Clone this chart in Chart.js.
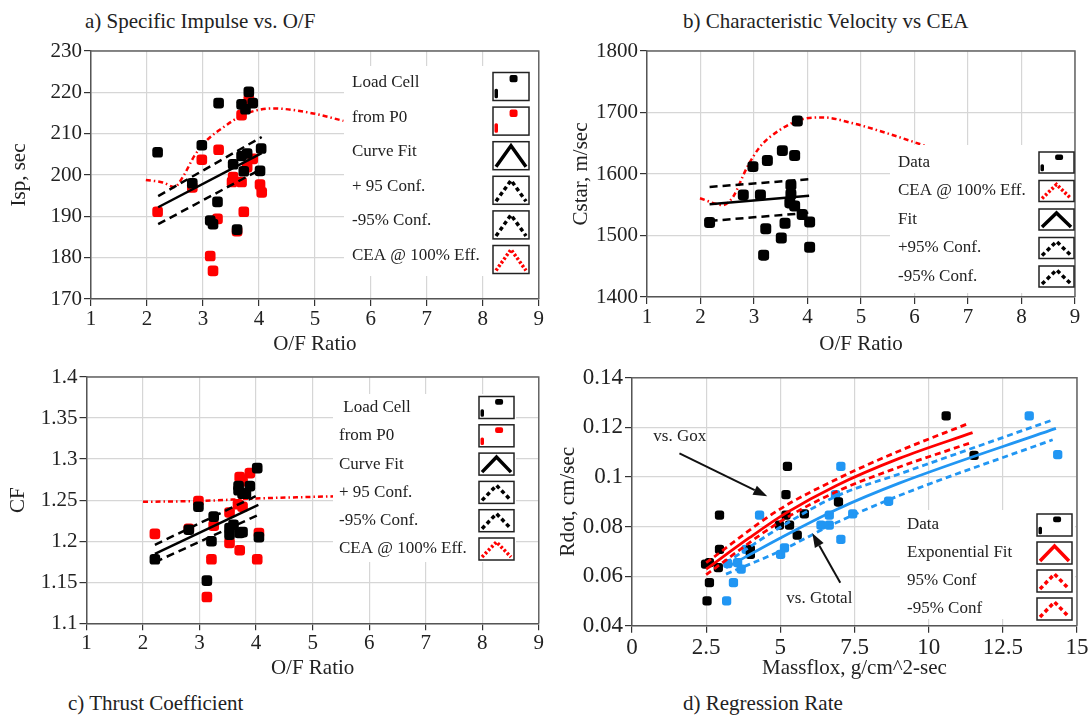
<!DOCTYPE html>
<html>
<head>
<meta charset="utf-8">
<script src="https://cdn.jsdelivr.net/npm/chart.js@4.4.1/dist/chart.umd.min.js"></script>
<style>
  body { margin: 0; background: #fff; width: 1090px; height: 718px; position: relative; overflow: hidden;
         font-family: 'Liberation Serif', 'Times New Roman', serif; color: #222; }
  canvas { position: absolute; }
  .ttl { position: absolute; font-size: 21px; line-height: 24px; white-space: nowrap; }
</style>
</head>
<body>
<div class="ttl" style="left:85px;top:9px">a) Specific Impulse vs. O/F</div>
<div class="ttl" style="left:683px;top:9px">b) Characteristic Velocity vs CEA</div>
<div class="ttl" style="left:68px;top:691px">c) Thrust Coefficient</div>
<div class="ttl" style="left:683px;top:691px">d) Regression Rate</div>
<canvas id="cA"></canvas>
<canvas id="cB"></canvas>
<canvas id="cC"></canvas>
<canvas id="cD"></canvas>
<script>
const SERIF = "'Liberation Serif', 'Times New Roman', Times, serif";
Chart.defaults.font.family = SERIF;
Chart.defaults.color = '#222';

const BLACK = '#000000', RED = '#ff0000', BLUE = '#2196f3';

// ---- a) Specific impulse vs O/F
const ofLoadA  = [2.19, 3.28, 3.82, 3.69, 3.76, 3.89, 2.98, 4.04, 3.79, 3.69, 3.54, 3.73, 4.02, 2.81, 3.26, 3.13, 3.18, 3.61];
const ispLoadA = [205.5, 217.4, 220.1, 217.1, 215.9, 217.4, 207.2, 206.4, 205.2, 204.6, 202.6, 200.9, 201.0, 198.0, 193.5, 189.0, 188.1, 186.8];
const ofP0A    = [2.19, 2.81, 2.98, 3.28, 3.69, 3.82, 3.89, 3.79, 3.54, 3.52, 3.69, 4.02, 4.05, 3.73, 3.26, 3.61, 3.13, 3.18];
const ispP0A   = [191.1, 197.0, 203.7, 206.1, 214.5, 218.3, 203.9, 201.9, 199.5, 198.3, 198.3, 197.7, 195.8, 191.1, 189.4, 186.4, 180.4, 176.8];
const ofFitA   = [2.2, 4.05];
const ispFitA  = [192.2, 205.3];
const ispUpA   = [194.9, 209.2];
const ispLoA   = [188.1, 201.5];
const ofCeaA   = [1.98, 2.28, 2.49, 2.64, 2.85, 3.07, 3.36, 3.71, 4.01, 4.25, 4.97, 5.51];
const ispCeaA  = [198.8, 198.2, 197.1, 199.5, 204.7, 208.4, 211.5, 214.5, 215.8, 216.1, 214.9, 213.1];

// ---- b) Characteristic velocity
const ofB      = [2.17, 2.80, 3.12, 2.98, 3.25, 3.53, 3.76, 3.81, 3.69, 3.69, 3.67, 3.76, 3.90, 4.04, 3.22, 3.58, 3.51, 3.18, 4.04];
const cstarB   = [1521, 1566, 1566, 1612, 1622, 1638, 1630, 1686, 1582, 1567, 1553, 1548, 1534, 1522, 1511, 1520, 1496, 1468, 1481];
const ofFitB   = [2.17, 4.03];
const cstarFitB = [1550.7, 1564.7];
const cstarUpB  = [1579, 1591.4];
const cstarLoB  = [1523.6, 1537];
const ofCeaB   = [1.99, 2.42, 2.61, 2.86, 3.11, 3.48, 3.92, 4.29, 4.85, 5.35, 6.47];
const cstarCeaB = [1560.5, 1549.6, 1563, 1609, 1644, 1671.5, 1689.4, 1692, 1682.4, 1670, 1638];

// ---- c) Thrust coefficient
const ofLoadC  = [2.21, 2.81, 2.98, 3.25, 3.21, 3.13, 3.60, 3.53, 3.53, 3.71, 3.76, 3.69, 3.69, 3.76, 3.82, 3.89, 4.02, 4.05];
const cfLoadC  = [1.178, 1.214, 1.242, 1.230, 1.200, 1.152, 1.220, 1.216, 1.208, 1.210, 1.211, 1.267, 1.262, 1.258, 1.258, 1.267, 1.289, 1.205];
const ofP0C    = [2.21, 2.81, 2.98, 3.25, 3.21, 3.13, 3.53, 3.53, 3.71, 3.76, 3.89, 3.68, 3.76, 3.71, 4.05, 4.02];
const cfP0C    = [1.209, 1.215, 1.249, 1.219, 1.178, 1.132, 1.235, 1.198, 1.278, 1.273, 1.283, 1.245, 1.242, 1.189, 1.210, 1.178];
const ofFitC   = [2.21, 4.04];
const cfFitC   = [1.1845, 1.2443];
const cfUpC    = [1.1955, 1.2565];
const cfLoC    = [1.1745, 1.232];
const ofCeaC   = [2.0, 3.0, 4.0, 5.0, 5.6];
const cfCeaC   = [1.248, 1.249, 1.252, 1.254, 1.255];

// ---- d) Regression rate
const gOx      = [2.53, 2.61, 2.48, 2.61, 2.91, 2.95, 2.95, 3.99, 3.99, 4.97, 5.19, 5.19, 5.24, 5.31, 5.57, 5.81, 6.96, 10.59, 11.53];
const rdotOx   = [0.050, 0.0574, 0.0648, 0.0654, 0.0634, 0.0708, 0.0846, 0.0708, 0.0688, 0.0806, 0.0846, 0.0929, 0.1043, 0.0806, 0.0765, 0.0851, 0.0899, 0.1246, 0.1087];
const gTot     = [3.19, 3.42, 3.23, 3.56, 3.68, 3.85, 4.30, 5.14, 5.01, 6.37, 6.65, 6.86, 7.04, 6.65, 7.04, 7.44, 8.65, 13.39, 14.35];
const rdotTot  = [0.050, 0.0574, 0.0650, 0.0654, 0.0628, 0.0708, 0.0846, 0.0714, 0.0688, 0.0806, 0.0846, 0.0929, 0.1043, 0.0806, 0.0748, 0.0851, 0.0902, 0.1246, 0.1090];
const gFitOx   = [2.5, 3.96, 5.2, 6.88, 9.01, 11.48];
const rFitOx   = [0.0628, 0.0755, 0.0855, 0.0965, 0.1075, 0.1179];
const gBandOx  = [2.5, 4.97, 6.88, 9.01, 11.37];
const rUpOx    = [0.0654, 0.0869, 0.0990, 0.1105, 0.1217];
const rLoOx    = [0.0606, 0.0818, 0.0940, 0.1040, 0.1136];
const gFitTot  = [3.17, 4.97, 6.88, 9.01, 14.29];
const rFitTot  = [0.0634, 0.0752, 0.0868, 0.0975, 0.1196];
const gBandTot = [3.17, 4.97, 6.88, 9.01, 14.18];
const rUpTot   = [0.0654, 0.0795, 0.0922, 0.1012, 0.1230];
const rLoTot   = [0.0608, 0.0700, 0.0815, 0.0925, 0.1150];

// annotations of panel d, in data units
const noteText = ['vs. Gox', 'vs. Gtotal'];
const noteX    = [0.72, 5.2];
const noteY    = [0.1163, 0.0508];
const arrowFromX = [1.6, 7.02], arrowFromY = [0.1095, 0.0573];
const arrowToX   = [4.56, 6.08], arrowToY   = [0.0922, 0.0773];

const fmt = v => String(Math.round(v * 1000) / 1000);
const xy = (xs, ys) => xs.map((x, i) => ({x, y: ys[i]}));

function pts(xs, ys, color, r, order) {
  return {data: xy(xs, ys), showLine: false, pointStyle: 'rectRounded', pointRadius: r,
          pointBackgroundColor: color, pointBorderWidth: 0, backgroundColor: color, borderColor: color, order};
}
function curve(xs, ys, color, dash, order, smooth, width) {
  return {data: xy(xs, ys), showLine: true, pointRadius: 0, borderColor: color, borderWidth: width || 2.5,
          borderDash: dash, fill: false, order,
          tension: smooth ? 0.4 : 0, cubicInterpolationMode: smooth ? 'monotone' : 'default'};
}

const framePlugin = {
  id: 'frame',
  beforeDatasetsDraw(chart) {
    const {ctx, chartArea: a} = chart;
    ctx.save();
    ctx.strokeStyle = '#666';
    ctx.lineWidth = 1.5;
    ctx.beginPath();
    ctx.moveTo(a.left, a.top);
    ctx.lineTo(a.right, a.top);
    ctx.lineTo(a.right, a.bottom);
    ctx.stroke();
    ctx.restore();
  }
};

function legendPlugin(L, box) {
  return {
    id: 'boxLegend',
    afterDatasetsDraw(chart) {
      const ctx = chart.ctx, ox = box[0], oy = box[1];
      ctx.save();
      ctx.fillStyle = '#fff';
      ctx.fillRect(L.bg[0] - ox, L.bg[1] - oy, L.bg[2], L.bg[3]);
      ctx.font = '17px ' + SERIF;
      ctx.textBaseline = 'middle';
      L.items.forEach((it, i) => {
        const cy = L.y0 + i * L.dy - oy;
        ctx.fillStyle = '#222';
        ctx.fillText(it.t, L.tx - ox, cy + L.tdy);
        const w = L.bw, h = L.bh, bx = L.bx - ox, by = cy - h / 2;
        ctx.setLineDash([]);
        ctx.strokeStyle = '#222';
        ctx.lineWidth = 1.5;
        ctx.strokeRect(bx, by, w, h);
        if (it.k === 'pts') {
          ctx.fillStyle = it.c;
          ctx.beginPath();
          ctx.roundRect(bx + 1.5, by + h * 0.58, 3.5, h * 0.34, 1.5);
          ctx.roundRect(bx + w * 0.46, by + 2.5, 8, h * 0.26, 2);
          ctx.fill();
        } else {
          ctx.strokeStyle = it.c;
          ctx.lineWidth = 3.5;
          ctx.setLineDash(it.k === 'solid' ? [] : it.k === 'dash' ? [4, 3] : [2.5, 2]);
          ctx.beginPath();
          ctx.moveTo(bx + 3, by + h - 3);
          ctx.lineTo(bx + w / 2, by + 4);
          ctx.lineTo(bx + w - 3, by + h - 3);
          ctx.stroke();
        }
      });
      ctx.restore();
    }
  };
}

const notePlugin = {
  id: 'notes',
  afterDatasetsDraw(chart) {
    const {ctx, scales: {x, y}} = chart;
    ctx.save();
    ctx.font = '17px ' + SERIF;
    ctx.fillStyle = '#222';
    ctx.textBaseline = 'middle';
    noteText.forEach((t, i) => ctx.fillText(t, x.getPixelForValue(noteX[i]), y.getPixelForValue(noteY[i])));
    ctx.strokeStyle = '#111';
    ctx.fillStyle = '#111';
    ctx.lineWidth = 2;
    arrowFromX.forEach((fx, i) => {
      const x1 = x.getPixelForValue(fx), y1 = y.getPixelForValue(arrowFromY[i]);
      const x2 = x.getPixelForValue(arrowToX[i]), y2 = y.getPixelForValue(arrowToY[i]);
      const ang = Math.atan2(y2 - y1, x2 - x1), hl = 14, hw = 5;
      const bxp = x2 - hl * Math.cos(ang), byp = y2 - hl * Math.sin(ang);
      ctx.beginPath();
      ctx.moveTo(x1, y1);
      ctx.lineTo(bxp, byp);
      ctx.stroke();
      ctx.beginPath();
      ctx.moveTo(x2, y2);
      ctx.lineTo(bxp - hw * Math.sin(ang), byp + hw * Math.cos(ang));
      ctx.lineTo(bxp + hw * Math.sin(ang), byp - hw * Math.cos(ang));
      ctx.closePath();
      ctx.fill();
    });
    ctx.restore();
  }
};

function panel(id, box, area, o) {
  const cv = document.getElementById(id);
  cv.width = box[2];
  cv.height = box[3];
  cv.style.left = box[0] + 'px';
  cv.style.top = box[1] + 'px';
  const yW = area[0] - box[0], xH = box[1] + box[3] - area[3];
  const tickFont = {size: o.tickSize};
  const grid = {color: '#d6d6d6', lineWidth: 1.2, tickColor: '#333', tickLength: 7};
  const border = {color: '#555', width: 1.5};
  return new Chart(cv, {
    type: 'scatter',
    data: {datasets: o.datasets},
    options: {
      responsive: false,
      animation: false,
      layout: {padding: {top: area[1] - box[1], right: box[0] + box[2] - area[2], left: 0, bottom: 0}},
      plugins: {legend: {display: false}, tooltip: {enabled: false}},
      scales: {
        x: {
          type: 'linear', min: o.x[0], max: o.x[1],
          afterFit: s => { s.height = xH; },
          ticks: {stepSize: o.x[2], padding: 1, font: tickFont, callback: fmt, maxRotation: 0, autoSkip: false},
          grid, border,
          title: {display: true, text: o.xTitle, font: {size: 21}, padding: {top: 0, bottom: o.xPad}}
        },
        y: {
          type: 'linear', min: o.y[0], max: o.y[1],
          afterFit: s => { s.width = yW; },
          ticks: {stepSize: o.y[2], padding: 2, font: tickFont, callback: fmt, autoSkip: false},
          grid, border,
          title: {display: true, text: o.yTitle, font: {size: 21}, padding: {top: o.yPad, bottom: 0}}
        }
      }
    },
    plugins: [framePlugin, legendPlugin(o.legend, box)].concat(o.extra || [])
  });
}

// ---- panel a
const boxA = [0, 0, 545, 362];
panel('cA', boxA, [91, 51, 540, 299], {
  x: [1, 9, 1], y: [170, 230, 10], tickSize: 21,
  xTitle: 'O/F Ratio', yTitle: 'Isp, sec', xPad: 5, yPad: 7,
  datasets: [
    curve(ofFitA, ispFitA, BLACK, [], 0),
    curve(ofFitA, ispUpA, BLACK, [8, 5], 0),
    curve(ofFitA, ispLoA, BLACK, [8, 5], 0),
    pts(ofLoadA, ispLoadA, BLACK, 6.2, 1),
    pts(ofP0A, ispP0A, RED, 6.2, 2),
    curve(ofCeaA, ispCeaA, RED, [5, 3, 1.5, 3], 3, true)
  ],
  legend: {
    bg: [344, 66, 194, 210], tx: 352, bx: 493, bw: 36, bh: 28, y0: 86.5, dy: 34.6, tdy: -4,
    items: [
      {t: 'Load Cell', k: 'pts', c: BLACK},
      {t: 'from P0', k: 'pts', c: RED},
      {t: 'Curve Fit', k: 'solid', c: BLACK},
      {t: '+ 95 Conf.', k: 'dash', c: BLACK},
      {t: '-95% Conf.', k: 'dash', c: BLACK},
      {t: 'CEA @ 100% Eff.', k: 'dot', c: RED}
    ]
  }
});

// ---- panel b
const boxB = [545, 0, 545, 362];
panel('cB', boxB, [647, 51, 1075, 297], {
  x: [1, 9, 1], y: [1400, 1800, 100], tickSize: 21,
  xTitle: 'O/F Ratio', yTitle: 'Cstar, m/sec', xPad: 5, yPad: 24,
  datasets: [
    curve(ofFitB, cstarFitB, BLACK, [], 0),
    curve(ofFitB, cstarUpB, BLACK, [8, 5], 0),
    curve(ofFitB, cstarLoB, BLACK, [8, 5], 0),
    pts(ofB, cstarB, BLACK, 6.4, 1),
    curve(ofCeaB, cstarCeaB, RED, [5, 3, 1.5, 3], 3, true)
  ],
  legend: {
    bg: [890, 145, 184, 148], tx: 898, bx: 1039, bw: 35, bh: 21, y0: 162.5, dy: 28.5, tdy: 0,
    items: [
      {t: 'Data', k: 'pts', c: BLACK},
      {t: 'CEA @ 100% Eff.', k: 'dot', c: RED},
      {t: 'Fit', k: 'solid', c: BLACK},
      {t: '+95% Conf.', k: 'dash', c: BLACK},
      {t: '-95% Conf.', k: 'dash', c: BLACK}
    ]
  }
});

// ---- panel c
const boxC = [0, 362, 545, 323];
panel('cC', boxC, [86.5, 377, 540, 623.3], {
  x: [1, 9, 1], y: [1.1, 1.4, 0.05], tickSize: 21,
  xTitle: 'O/F Ratio', yTitle: 'CF', xPad: 4, yPad: 6,
  datasets: [
    curve(ofFitC, cfFitC, BLACK, [], 0),
    curve(ofFitC, cfUpC, BLACK, [8, 5], 0),
    curve(ofFitC, cfLoC, BLACK, [8, 5], 0),
    pts(ofLoadC, cfLoadC, BLACK, 6.2, 1),
    pts(ofP0C, cfP0C, RED, 6.2, 2),
    curve(ofCeaC, cfCeaC, RED, [5, 3, 1.5, 3], 3, true)
  ],
  legend: {
    bg: [333, 394, 183, 168], tx: 339, bx: 479, bw: 35, bh: 22, y0: 407.5, dy: 28.3, tdy: 0,
    items: [
      {t: ' Load Cell', k: 'pts', c: BLACK},
      {t: 'from P0', k: 'pts', c: RED},
      {t: 'Curve Fit', k: 'solid', c: BLACK},
      {t: '+ 95 Conf.', k: 'dash', c: BLACK},
      {t: '-95% Conf.', k: 'dash', c: BLACK},
      {t: 'CEA @ 100% Eff.', k: 'dot', c: RED}
    ]
  }
});

// ---- panel d
const boxD = [545, 362, 545, 323];
panel('cD', boxD, [632, 375, 1077, 625.7], {
  x: [0, 15, 2.5], y: [0.04, 0.14, 0.02], tickSize: 23,
  xTitle: 'Massflox, g/cm^2-sec', yTitle: 'Rdot, cm/sec', xPad: 4, yPad: 11,
  datasets: [
    curve(gFitOx, rFitOx, RED, [], 0, true, 2.8),
    curve(gBandOx, rUpOx, RED, [6, 4], 0, true, 2.8),
    curve(gBandOx, rLoOx, RED, [6, 4], 0, true, 2.8),
    curve(gFitTot, rFitTot, BLUE, [], 0, true, 2.8),
    curve(gBandTot, rUpTot, BLUE, [6, 4], 0, true, 2.8),
    curve(gBandTot, rLoTot, BLUE, [6, 4], 0, true, 2.8),
    pts(gOx, rdotOx, BLACK, 5.4, 1),
    pts(gTot, rdotTot, BLUE, 5.4, 2)
  ],
  extra: [notePlugin],
  legend: {
    bg: [900, 510, 175, 109], tx: 907, bx: 1037, bw: 35, bh: 22, y0: 525, dy: 28, tdy: 0,
    items: [
      {t: 'Data', k: 'pts', c: BLACK},
      {t: 'Exponential Fit', k: 'solid', c: RED},
      {t: '95% Conf', k: 'dash', c: RED},
      {t: '-95% Conf', k: 'dash', c: RED}
    ]
  }
});
</script>
</body>
</html>
